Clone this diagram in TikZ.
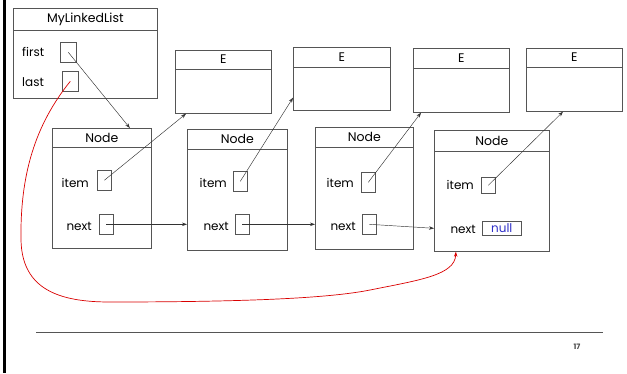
\documentclass[tikz,border=0pt]{standalone}
\usepackage{fontspec}
\setmainfont{Poppins}
\usetikzlibrary{arrows.meta}
\definecolor{edge}{HTML}{555555}
\definecolor{nullblue}{HTML}{3030C8}
\tikzset{
  frame/.style={draw=edge, line width=0.7pt, inner sep=0pt, anchor=north west},
  cell/.style={draw=edge, line width=0.6pt, inner sep=0pt, anchor=north west, minimum width=14pt, minimum height=20pt},
  lbl/.style={font=\fontsize{12}{14}\selectfont, inner sep=0pt},
  ttl/.style={font=\fontsize{12.5}{14}\selectfont, inner sep=0pt},
  ptr/.style={draw=black!80, line width=0.45pt, -{Stealth[length=5pt,width=3.5pt]}},
  lastptr/.style={draw=red!85!black, line width=0.7pt, -{Stealth[length=5pt,width=3.5pt]}},
}
\newcommand{\headbox}[6]{% name, x, y, width, height, header height
  \node[frame, minimum width=#4pt, minimum height=#5pt] (#1) at (#2,#3) {};
  \draw[edge, line width=0.7pt] ([yshift=-#6pt]#1.north west) -- ([yshift=-#6pt]#1.north east);
}
\begin{document}
\begin{tikzpicture}[x=1pt, y=-1pt]
\useasboundingbox (0,0) rectangle (627,373);
% left rule
\draw[black, line width=3pt] (4.5,0) -- (4.5,373);

% list header object
\headbox{ml}{13}{8}{144}{90}{22}
\node[ttl] at ([yshift=-11pt]ml.north) {MyLinkedList};
\node[lbl, anchor=west] at (22,52) {first};
\node[cell, minimum width=16pt] (fb) at (60,42) {};
\node[lbl, anchor=west] at (22,82) {last};
\node[cell, minimum width=16pt] (lb) at (62,71) {};

% element boxes
\headbox{e1}{175}{50}{96}{63}{19}
\node[ttl] at ([yshift=-9.5pt]e1.north) {E};
\headbox{e2}{293}{47}{97}{63}{20}
\node[ttl] at ([yshift=-10pt]e2.north) {E};
\headbox{e3}{413}{48}{96}{64}{20}
\node[ttl] at ([yshift=-10pt]e3.north) {E};
\headbox{e4}{526}{48}{96}{63}{19}
\node[ttl] at ([yshift=-9.5pt]e4.north) {E};

% linked nodes
\headbox{n1}{52}{128}{99}{120}{19}
\node[ttl] at ([yshift=-9.5pt]n1.north) {Node};
\node[lbl, anchor=east] at (89,183) {item};
\node[cell] (i1) at (97,170) {};
\node[lbl, anchor=east] at (92,226) {next};
\node[cell] (x1) at (99,214) {};

\headbox{n2}{187}{129}{100}{121}{20}
\node[ttl] at ([yshift=-10pt]n2.north) {Node};
\node[lbl, anchor=east] at (227,183) {item};
\node[cell] (i2) at (233,171) {};
\node[lbl, anchor=east] at (229,226) {next};
\node[cell] (x2) at (235,214) {};

\headbox{n3}{315}{127}{98}{122}{20}
\node[ttl] at ([yshift=-10pt]n3.north) {Node};
\node[lbl, anchor=east] at (354,183) {item};
\node[cell] (i3) at (361,172) {};
\node[lbl, anchor=east] at (356,226) {next};
\node[cell] (x3) at (362,214) {};

\headbox{n4}{434}{130}{115}{121}{21}
\node[ttl] at ([yshift=-10.5pt]n4.north) {Node};
\node[lbl, anchor=east] at (474,185) {item};
\node[cell, minimum height=16pt] (i4) at (481,177) {};
\node[lbl, anchor=east] at (476,229) {next};
\node[cell, minimum width=39pt, minimum height=14pt] (nl) at (482,221) {};
\node[lbl, text=nullblue] at (nl.center) {null};

% references
\draw[ptr] (fb.center) -- ([xshift=28pt]n1.north);
\draw[ptr] (i1.center) -- ([xshift=11pt]e1.south west);
\draw[ptr] (i2.center) -- ([yshift=13pt]e2.south west);
\draw[ptr] (i3.center) -- ([xshift=8pt]e3.south west);
\draw[ptr] (i4.center) -- ([xshift=37pt]e4.south west);
\draw[ptr] (x1.center) -- (n2.west |- x1.center);
\draw[ptr] (x2.center) -- (n3.west |- x2.center);
\draw[ptr] (x3.center) -- (n4.west |- nl.center);
\draw[lastptr] (lb.center) .. controls (35,125) and (20,175) .. (21,240)
  .. controls (22,290) and (60,302) .. (110,302)
  .. controls (250,302) and (330,298) .. (370,290)
  .. controls (420,280) and (455,275) .. ([xshift=-36pt]n4.south);

% footer
\draw[edge, line width=0.7pt] (36,332) -- (603,332);
\node[font=\fontsize{7.5}{8}\selectfont\bfseries, text=black!70, inner sep=0pt] (pg) at (577,347) {17};
\end{tikzpicture}
\end{document}
